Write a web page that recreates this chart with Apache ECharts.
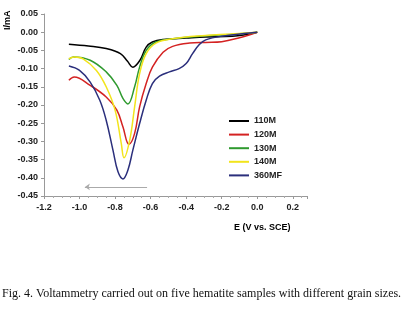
<!DOCTYPE html>
<html>
<head>
<meta charset="utf-8">
<script src="https://cdn.jsdelivr.net/npm/echarts@6/dist/echarts.min.js"></script>
<style>
  html, body { margin: 0; padding: 0; background: #fff; }
  #chart { width: 406px; height: 326px; }
</style>
</head>
<body>
<div id="chart"></div>
<script>
// 图例名称
var names = ['110M', '120M', '130M', '140M', '360MF'];
var colors = ['#000000', '#d42222', '#2f9a2f', '#f2e41c', '#2b2f7c'];

// 各样品的伏安曲线 [E, I]
var s110 = [[-1.06, -0.033], [-0.95, -0.038], [-0.85, -0.045], [-0.77, -0.059], [-0.73, -0.080], [-0.70, -0.096],
  [-0.66, -0.077], [-0.625, -0.041], [-0.59, -0.027], [-0.53, -0.020], [-0.40, -0.016], [-0.29, -0.013], [-0.14, -0.011], [0.0, 0.0]];
var s120 = [[-1.06, -0.132], [-1.03, -0.123], [-0.94, -0.146], [-0.85, -0.178], [-0.79, -0.214], [-0.756, -0.260], [-0.722, -0.308],
  [-0.69, -0.278], [-0.662, -0.205], [-0.625, -0.141], [-0.59, -0.096], [-0.53, -0.055], [-0.476, -0.039], [-0.38, -0.030],
  [-0.29, -0.028], [-0.20, -0.026], [-0.10, -0.015], [0.0, 0.0]];
var s130 = [[-1.06, -0.075], [-1.035, -0.068], [-0.94, -0.077], [-0.85, -0.109], [-0.79, -0.146], [-0.756, -0.182], [-0.728, -0.197],
  [-0.69, -0.150], [-0.662, -0.096], [-0.625, -0.050], [-0.57, -0.027], [-0.476, -0.018], [-0.29, -0.010], [-0.15, -0.006], [0.0, 0.0]];
var s140 = [[-1.06, -0.073], [-1.03, -0.068], [-0.98, -0.073], [-0.905, -0.105], [-0.85, -0.150], [-0.80, -0.214], [-0.765, -0.306],
  [-0.75, -0.345], [-0.718, -0.297], [-0.69, -0.205], [-0.662, -0.114], [-0.625, -0.059], [-0.57, -0.030], [-0.476, -0.018],
  [-0.29, -0.009], [-0.15, -0.005], [0.0, 0.0]];
var s360 = [[-1.06, -0.093], [-1.0, -0.105], [-0.94, -0.137], [-0.886, -0.187], [-0.85, -0.242], [-0.812, -0.324], [-0.784, -0.383],
  [-0.756, -0.403], [-0.728, -0.379], [-0.70, -0.324], [-0.662, -0.251], [-0.625, -0.187], [-0.59, -0.141], [-0.55, -0.121],
  [-0.494, -0.109], [-0.44, -0.100], [-0.40, -0.086], [-0.364, -0.059], [-0.326, -0.034], [-0.29, -0.021], [-0.20, -0.011], [0.0, 0.0]];
var curves = [s110, s120, s130, s140, s360];

// 扫描方向箭头
var arrowFrom = [-0.62, -0.425];
var arrowTo = [-0.97, -0.425];

var myChart = echarts.init(document.getElementById('chart'));

var labelStyle = {
  fontFamily: 'Liberation Sans, Arial, sans-serif',
  fontWeight: 'bold',
  fontSize: 9,
  color: '#222'
};

var series = names.map(function (n, i) {
  return {
    name: n,
    type: 'line',
    smooth: 0.4,
    showSymbol: false,
    data: curves[i],
    lineStyle: { color: colors[i], width: 1.5 },
    itemStyle: { color: colors[i] }
  };
});

// 箭头用 markLine 画
series[0].markLine = {
  silent: true,
  symbol: ['none', 'arrow'],
  symbolSize: [5, 5],
  label: { show: false },
  lineStyle: { color: '#aaaaaa', width: 1, type: 'solid' },
  data: [[{ coord: arrowFrom }, { coord: arrowTo }]]
};

myChart.setOption({
  animation: false,
  backgroundColor: '#fff',
  grid: { left: 44, top: 14, right: 99, bottom: 130 },
  legend: {
    orient: 'vertical',
    left: 224,
    top: 111,
    icon: 'rect',
    itemWidth: 20,
    itemHeight: 2,
    itemGap: 3.6,
    textStyle: Object.assign({ lineHeight: 10 }, labelStyle),
    data: names
  },
  xAxis: {
    type: 'value',
    min: -1.2,
    max: 0.28,
    interval: 0.2,
    axisLine: { onZero: false, lineStyle: { color: '#999' } },
    axisTick: { show: true, length: 3, lineStyle: { color: '#999' } },
    minorTick: { show: true, splitNumber: 4, length: 2, lineStyle: { color: '#aaa' } },
    splitLine: { show: false },
    axisLabel: Object.assign({
      margin: 7,
      showMaxLabel: false,
      formatter: function (v) { return v.toFixed(1); }
    }, labelStyle)
  },
  yAxis: {
    type: 'value',
    min: -0.45,
    max: 0.05,
    interval: 0.05,
    axisLine: { show: true, onZero: false, lineStyle: { color: '#999' } },
    axisTick: { show: true, length: 3, lineStyle: { color: '#999' } },
    splitLine: { show: false },
    axisLabel: Object.assign({
      margin: 6,
      formatter: function (v) { return v.toFixed(2); }
    }, labelStyle)
  },
  graphic: [
    {
      type: 'text',
      x: 3,
      y: 30,
      rotation: Math.PI / 2,
      style: Object.assign({ text: 'I/mA', textVerticalAlign: 'top' }, labelStyle)
    },
    {
      type: 'text',
      left: 234,
      top: 223,
      style: Object.assign({ text: 'E (V vs. SCE)' }, labelStyle)
    },
    {
      type: 'text',
      left: 2,
      top: 288,
      style: {
        text: 'Fig. 4. Voltammetry carried out on five hematite samples with different grain sizes.',
        fontFamily: 'Liberation Serif, Times New Roman, serif',
        fontSize: 12,
        fill: '#111'
      }
    }
  ],
  series: series
});

window.addEventListener('resize', function () {
  myChart.resize();
});
</script>
</body>
</html>
